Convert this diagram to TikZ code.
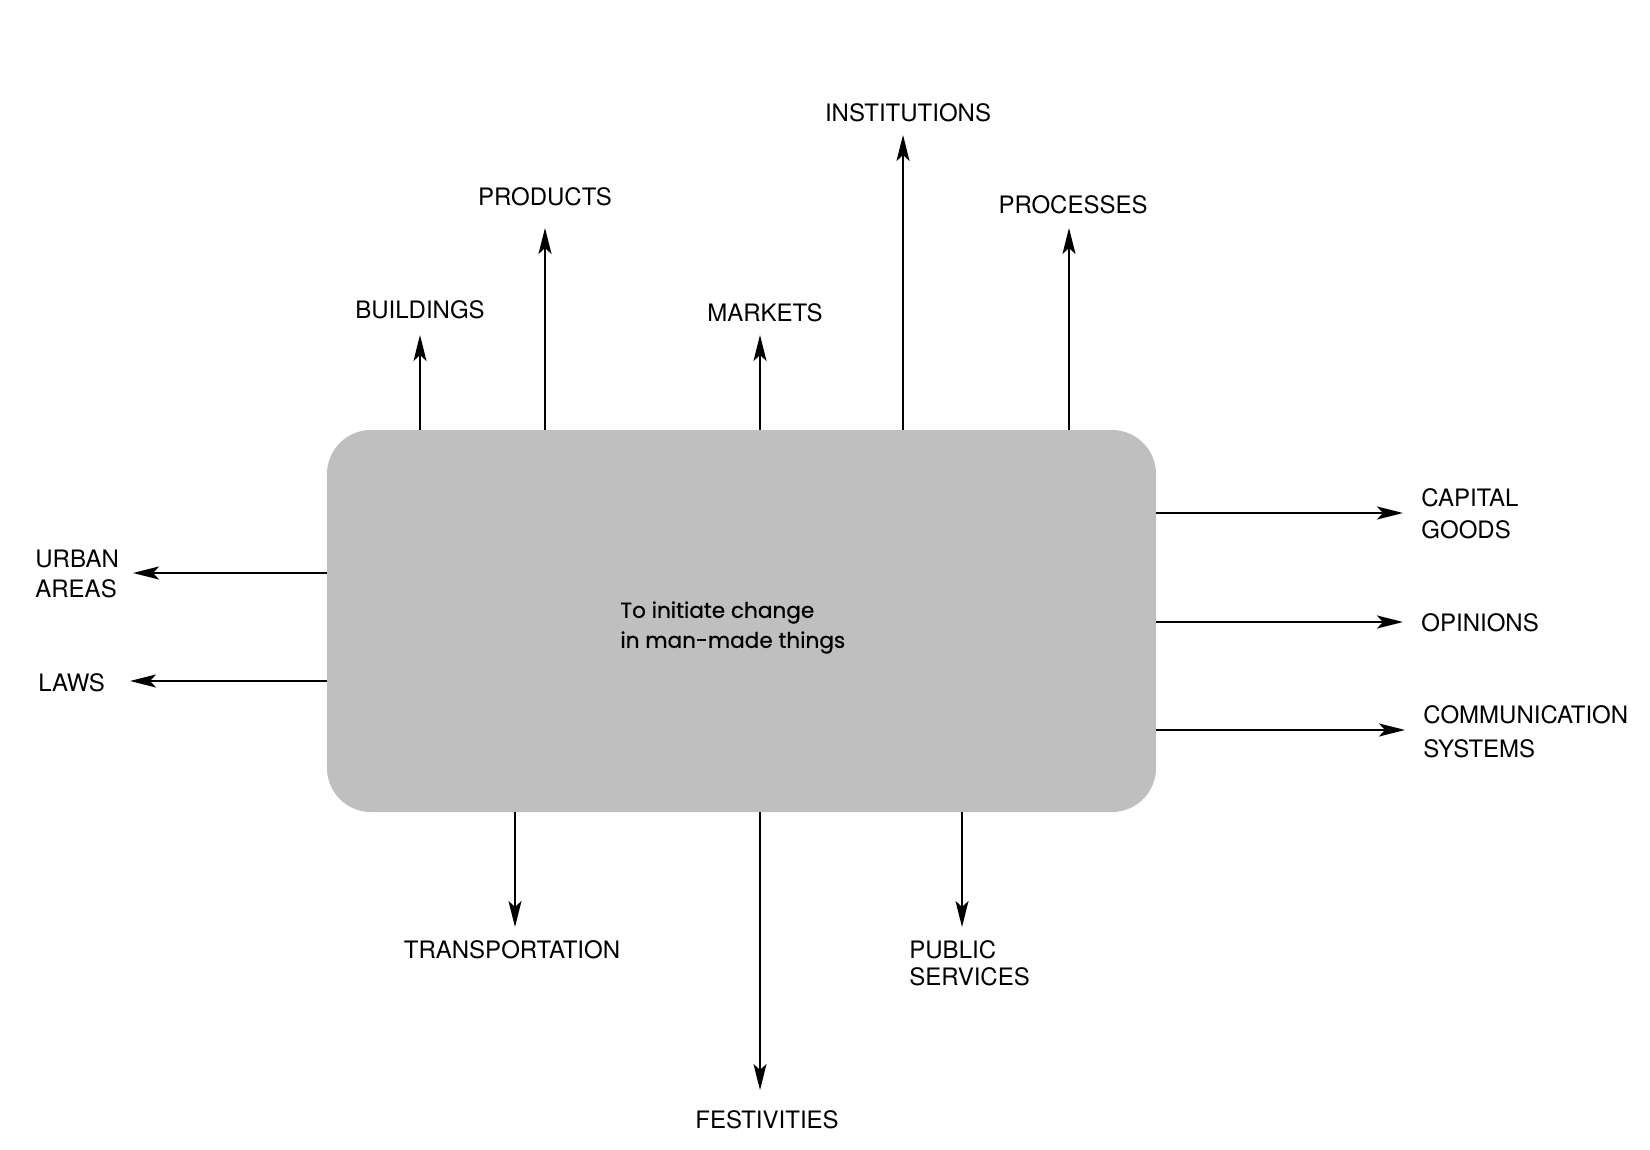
\documentclass[tikz,border=0pt]{standalone}
\usepackage{fontspec}
\setmainfont{TeX Gyre Heros}
\newfontfamily\goalfont[FakeBold=0.6]{Poppins}
\usetikzlibrary{arrows.meta}
\begin{document}
\begin{tikzpicture}[x=0.5pt,y=-0.5pt,
  lbl/.style={font=\fontsize{12}{15}\selectfont, inner sep=0pt, align=left},
  arr/.style={line width=1.25pt, -{Stealth[length=13pt,width=6.5pt,inset=3pt]}},
  mainbox/.style={fill=black!25, rounded corners=22pt, minimum width=414.5pt,
                  minimum height=191pt, inner sep=0pt},
  goaltext/.style={font=\goalfont\fontsize{10.8}{15}\selectfont, inner sep=0pt, align=left}]
\useasboundingbox (0,0) rectangle (1650,1150);

% central box
\node[mainbox] (box) at (741.5,621) {};
\node[goaltext, anchor=north west] (goal) at (620,601) {To initiate change\\in man-made things};

% labels
\node[lbl, anchor=north] (bld) at (420,300) {BUILDINGS};
\node[lbl, anchor=north] (prd) at (545,187) {PRODUCTS};
\node[lbl, anchor=north] (mkt) at (765,303) {MARKETS};
\node[lbl, anchor=north] (ins) at (908,103) {INSTITUTIONS};
\node[lbl, anchor=north] (prc) at (1073,195) {PROCESSES};
\node[lbl, anchor=north west, font=\fontsize{12}{16}\selectfont] (cap) at (1421,488) {CAPITAL\\GOODS};
\node[lbl, anchor=north west] (opi) at (1421,613) {OPINIONS};
\node[lbl, anchor=north west, font=\fontsize{12}{17}\selectfont] (com) at (1423,705) {COMMUNICATION\\SYSTEMS};
\node[lbl, anchor=north west] (urb) at (35,550) {URBAN\\AREAS};
\node[lbl, anchor=north west] (law) at (38,673) {LAWS};
\node[lbl, anchor=north] (tra) at (512,940) {TRANSPORTATION};
\node[lbl, anchor=north] (fes) at (767,1110) {FESTIVITIES};
\node[lbl, anchor=north west, font=\fontsize{12}{13.5}\selectfont] (pub) at (909,940) {PUBLIC\\SERVICES};

% arrow tips
\coordinate (tBld) at (420,335);
\coordinate (tPrd) at (545,228);
\coordinate (tMkt) at (760,335);
\coordinate (tIns) at (903,135);
\coordinate (tPrc) at (1069,228);
\coordinate (tCap) at (1403,513);
\coordinate (tOpi) at (1403,622);
\coordinate (tCom) at (1405,730);
\coordinate (tUrb) at (133,573);
\coordinate (tLaw) at (130,681);
\coordinate (tTra) at (515,927);
\coordinate (tFes) at (760,1090);
\coordinate (tPub) at (962,927);

% arrows
\draw[arr] (box.north -| tBld) -- (tBld);
\draw[arr] (box.north -| tPrd) -- (tPrd);
\draw[arr] (box.north -| tMkt) -- (tMkt);
\draw[arr] (box.north -| tIns) -- (tIns);
\draw[arr] (box.north -| tPrc) -- (tPrc);
\draw[arr] (box.east |- tCap) -- (tCap);
\draw[arr] (box.east |- tOpi) -- (tOpi);
\draw[arr] (box.east |- tCom) -- (tCom);
\draw[arr] (box.west |- tUrb) -- (tUrb);
\draw[arr] (box.west |- tLaw) -- (tLaw);
\draw[arr] (box.south -| tTra) -- (tTra);
\draw[arr] (box.south -| tFes) -- (tFes);
\draw[arr] (box.south -| tPub) -- (tPub);
\end{tikzpicture}
\end{document}
